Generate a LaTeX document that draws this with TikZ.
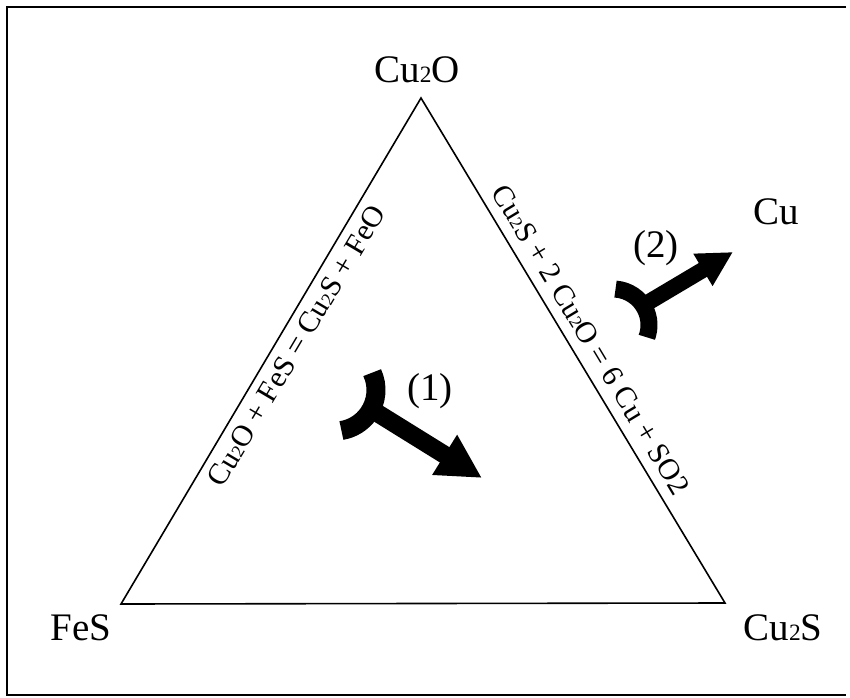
\documentclass[tikz,border=0pt]{standalone}
\usepackage{fontspec}
\setmainfont{Liberation Serif}
\usetikzlibrary{arrows.meta,calc}

\newcommand{\low}[1]{\scalebox{0.6}{#1}}

\begin{document}
\begin{tikzpicture}[x=1pt,y=1pt,
    vertex/.style={font=\fontsize{39}{39}\selectfont,anchor=base,inner sep=0pt},
    eqn/.style={font=\fontsize{30}{30}\selectfont,inner sep=0pt,sloped},
    stem/.style 2 args={line width=#1,-{Triangle[length=#2,width=#2]}}]
  \useasboundingbox (0,0) rectangle (850,697);
  \draw[line width=2.5pt] (846,690) -| (7,2) -- (846,2);

  \coordinate (top) at (421,599);
  \coordinate (left) at (121,93);
  \coordinate (right) at (725,94);
  \draw[line width=1.6pt,line join=miter]
    (left) -- node[eqn,pos=0.53,below=8pt] {Cu\low{2}O + FeS = Cu\low{2}S + FeO} (top)
    -- node[eqn,pos=0.5,above=10pt] {Cu\low{2}S + 2 Cu\low{2}O = 6 Cu + SO2} (right)
    -- cycle;

  \node[vertex] (cu2o) at (417,614) {Cu\low{2}O};
  \node[vertex] (fes) at (81,57) {FeS};
  \node[vertex] (cu2s) at (783,57) {Cu\low{2}S};
  \node[vertex] (cu) at (776,472) {Cu};
  \node[vertex] (n1) at (430,297) {(1)};
  \node[vertex] (n2) at (656,439) {(2)};

  % arrow (1)
  \coordinate (c1) at (335,307);
  \coordinate (j1) at ($(c1)+(-28:41)$);
  \coordinate (t1) at (482,219);
  \draw[line width=19pt] ($(c1)+(25:41)$) arc[start angle=25,end angle=-81,radius=41];
  \draw[stem={18pt}{44pt}] (j1) -- (t1);

  % arrow (2)
  \coordinate (c2) at (613,372);
  \coordinate (j2) at ($(c2)+(33:36)$);
  \coordinate (t2) at (733,445);
  \draw[line width=17pt] ($(c2)+(86:36)$) arc[start angle=86,end angle=-20,radius=36];
  \draw[stem={16pt}{35pt}] (j2) -- (t2);
\end{tikzpicture}
\end{document}
